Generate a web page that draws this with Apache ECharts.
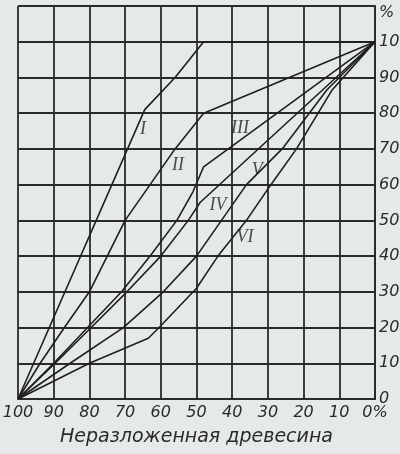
<!DOCTYPE html>
<html><head><meta charset="utf-8">
<script src="https://cdn.jsdelivr.net/npm/echarts@6/dist/echarts.min.js"></script>
<style>html,body{margin:0;padding:0;background:#e6e9ea}#c{width:400px;height:454px}</style>
</head><body><div id="c"></div>
<script>
// Data (x = undecomposed wood %, y = decomposed component %)
const curveI   = [[100,0],[64.5,81],[56,90],[48,100],[0,100]];
const curveII  = [[100,0],[93.8,10],[87,20],[80,30],[75,40],[70,50],[63,60],[56,70],[48,80],[0,100]];
const curveIII = [[100,0],[90,10],[80.5,20],[71,30],[63,40],[55.5,50],[51,58],[48,65],[0,100]];
const curveIV  = [[100,0],[89.6,10],[79.5,20],[69.5,30],[60,40],[52.3,50],[49,55],[0,100]];
const curveV   = [[100,0],[85.4,10],[70.5,20],[59.3,30],[50,40],[43,50],[36,60],[26,70],[13.5,86.5],[0,100]];
const curveVI  = [[100,0],[80,10],[63.5,17],[60,20.5],[50,31],[44,40],[36,50],[29.5,59.5],[22,70],[12,86.5],[0,100]];
const curveNames = ['I','II','III','IV','V','VI'];
const labelPos = [[65,75.4],[55.2,65.5],[37.8,75.9],[44,54.3],[33,64.1],[36.4,45.4]];
const xAxisTitle = 'Неразложенная древесина';
const xEndLabel = '0%';
const yEndLabel = '%';

const curves = [curveI, curveII, curveIII, curveIV, curveV, curveVI];
const ink = '#2b2b2b';
const chart = echarts.init(document.getElementById('c'), null, {renderer:'canvas'});
const series = curves.map((d,i)=>({
  type:'line', name:curveNames[i], data:d, symbol:'none', silent:true,
  lineStyle:{color:'#1f1f1f', width:1.6}, z:3
}));
series.push({
  type:'scatter', symbolSize:0, silent:true, z:4,
  data: labelPos.map((p,i)=>({value:p, name:curveNames[i]})),
  label:{show:true, position:'inside', formatter:p=>p.name,
    fontFamily:'Liberation Serif', fontStyle:'italic', fontSize:18, color:'#222'}
});
chart.setOption({
  backgroundColor:'#e6e9ea',
  animation:false,
  grid:{left:18, right:25, top:6, bottom:55, containLabel:false, outerBoundsMode:'none'},
  xAxis:{type:'value', min:0, max:100, interval:10, inverse:true,
    axisLine:{show:true, lineStyle:{color:ink, width:2}},
    axisTick:{show:false},
    splitLine:{show:true, lineStyle:{color:ink, width:1.8}},
    axisLabel:{margin:6, fontFamily:'DejaVu Sans', fontStyle:'italic', fontSize:16, color:'#2a2a2a',
      formatter:v=> v===0 ? xEndLabel : String(v)},
    name:xAxisTitle, nameLocation:'middle', nameGap:29,
    nameTextStyle:{fontFamily:'DejaVu Sans', fontStyle:'italic', fontSize:19, color:'#2a2a2a'}
  },
  yAxis:{type:'value', min:0, max:110, interval:10, position:'right',
    axisLine:{show:true, lineStyle:{color:ink, width:2}},
    axisTick:{show:false},
    splitLine:{show:true, lineStyle:{color:ink, width:1.8}},
    axisLabel:{margin:4, fontFamily:'DejaVu Sans', fontStyle:'italic', fontSize:16, color:'#2a2a2a',
      formatter:v=> v===110 ? '{p|'+yEndLabel+'}' : String(v),
      rich:{p:{fontFamily:'DejaVu Sans', fontStyle:'italic', fontSize:16, color:'#2a2a2a', padding:[14,0,0,0]}}}
  },
  series:series
});
</script></body></html>
